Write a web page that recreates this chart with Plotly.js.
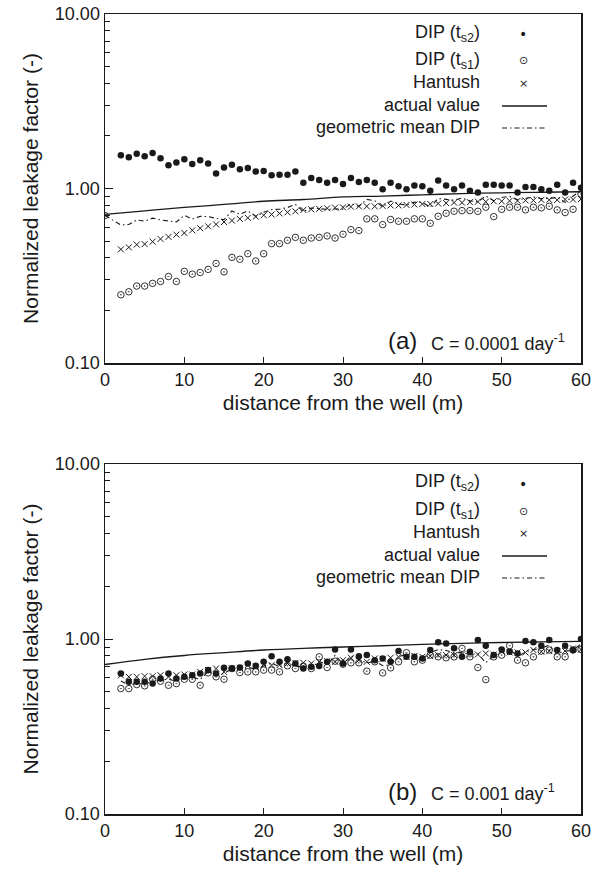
<!DOCTYPE html>
<html>
<head>
<meta charset="utf-8">
<script src="https://cdn.plot.ly/plotly-3.0.1.min.js"></script>
<style>
  html, body { margin: 0; padding: 0; background: #ffffff; }
  #chart { width: 600px; height: 873px; }
</style>
</head>
<body>
<div id="chart"></div>
<script>
// ---------------- data ----------------
const distance = [2,3,4,5,6,7,8,9,10,11,12,13,14,15,16,17,18,19,20,21,22,23,24,25,26,27,28,29,30,31,
  32,33,34,35,36,37,38,39,40,41,42,43,44,45,46,47,48,49,50,51,52,53,54,55,56,57,58,59,60];
const actualDistance = [0,5,10,15,20,25,30,35,40,45,50,55,60];

// Panel (a): C = 0.0001 day^-1
const topDipTs2 = [1.55,1.51,1.58,1.53,1.60,1.49,1.36,1.41,1.47,1.38,1.45,1.39,1.22,1.32,1.37,1.29,1.31,1.25,1.26,
  1.19,1.20,1.20,1.25,1.08,1.15,1.12,1.08,1.12,1.06,1.15,1.09,1.12,1.08,0.99,1.08,1.03,0.99,1.04,1.03,
  0.97,1.11,1.04,0.99,1.04,0.97,0.95,1.05,1.05,1.04,1.04,0.95,1.02,1.02,0.99,0.97,1.05,0.95,1.08,1.01];
const topDipTs1AtWell = 0.70;
const topDipTs1 = [0.246,0.256,0.276,0.276,0.286,0.293,0.313,0.293,0.335,0.323,0.330,0.344,0.372,0.333,0.403,
  0.393,0.423,0.384,0.423,0.483,0.483,0.505,0.525,0.505,0.52,0.525,0.535,0.52,0.547,0.581,0.574,
  0.67,0.67,0.621,0.664,0.649,0.649,0.67,0.67,0.632,0.693,0.721,0.741,0.747,0.747,0.74,0.781,0.69,
  0.76,0.781,0.781,0.754,0.781,0.775,0.791,0.754,0.728,0.76,0.93];
const topHantush = [0.448,0.46,0.477,0.48,0.496,0.514,0.528,0.544,0.556,0.576,0.592,0.607,0.623,0.643,0.655,
  0.67,0.679,0.69,0.703,0.71,0.72,0.73,0.74,0.754,0.76,0.764,0.77,0.777,0.78,0.787,0.79,
  0.79,0.79,0.795,0.80,0.80,0.805,0.81,0.815,0.815,0.82,0.825,0.83,0.83,0.835,0.84,0.84,0.845,0.845,
  0.85,0.85,0.855,0.855,0.86,0.86,0.86,0.865,0.865,0.87];
const topActual = [0.71,0.745,0.78,0.81,0.845,0.865,0.895,0.905,0.92,0.935,0.945,0.952,0.958];
const topGeoMeanAtWell = 0.70;
const topGeoMean = [0.618,0.622,0.660,0.650,0.676,0.661,0.652,0.643,0.702,0.668,0.692,0.691,0.674,0.663,0.743,
  0.712,0.744,0.693,0.730,0.758,0.761,0.778,0.810,0.738,0.773,0.767,0.760,0.763,0.761,0.817,0.791,
  0.866,0.851,0.784,0.847,0.818,0.802,0.835,0.831,0.783,0.877,0.866,0.857,0.881,0.851,0.838,0.906,
  0.851,0.889,0.901,0.861,0.877,0.893,0.876,0.876,0.890,0.832,0.906,0.969];

// Panel (b): C = 0.001 day^-1
const botDipTs2 = [0.635,0.569,0.569,0.569,0.556,0.594,0.635,0.594,0.608,0.621,0.635,0.664,0.635,0.684,0.678,
  0.687,0.725,0.703,0.741,0.798,0.741,0.767,0.725,0.678,0.693,0.700,0.741,0.872,0.725,
  0.872,0.798,0.809,0.757,0.774,0.741,0.853,0.791,0.791,0.774,0.865,0.957,0.944,0.884,0.791,0.846,
  0.987,0.916,0.809,0.872,0.846,0.827,0.974,0.957,0.916,0.987,0.865,0.916,0.865,1.00];
const botDipTs1 = [0.521,0.521,0.549,0.540,0.589,0.574,0.544,0.556,0.589,0.589,0.544,0.64,0.608,0.589,0.678,
  0.643,0.649,0.649,0.664,0.664,0.649,0.703,0.678,0.70,0.678,0.791,0.687,0.747,0.718,
  0.731,0.731,0.655,0.741,0.640,0.684,0.741,0.835,0.741,0.757,0.809,0.791,0.781,0.791,0.884,0.791,
  0.687,0.586,0.791,0.809,0.916,0.757,0.731,0.791,0.853,0.865,0.791,0.791,0.865,0.872];
const botHantush = [0.62,0.608,0.608,0.613,0.613,0.621,0.608,0.621,0.627,0.627,0.649,0.664,0.678,0.649,0.678,
  0.684,0.709,0.693,0.715,0.709,0.709,0.725,0.73,0.731,0.725,0.741,0.747,0.741,0.757,
  0.781,0.757,0.741,0.774,0.77,0.781,0.791,0.79,0.80,0.791,0.798,0.809,0.809,0.809,0.816,0.816,
  0.816,0.827,0.816,0.846,0.838,0.838,0.838,0.865,0.846,0.853,0.846,0.853,0.884,0.87];
const botActual = [0.715,0.765,0.805,0.835,0.865,0.885,0.90,0.915,0.932,0.945,0.955,0.962,0.968];
const botGeoMean = [0.575,0.545,0.559,0.554,0.572,0.584,0.588,0.575,0.598,0.605,0.588,0.652,0.621,0.635,0.678,
  0.665,0.686,0.675,0.701,0.728,0.693,0.734,0.701,0.689,0.685,0.744,0.713,0.807,0.721,
  0.798,0.764,0.728,0.749,0.704,0.712,0.795,0.813,0.766,0.765,0.837,0.870,0.859,0.836,0.836,0.818,
  0.823,0.733,0.800,0.840,0.880,0.791,0.844,0.870,0.884,0.924,0.827,0.851,0.865,0.934];

const yTickVals = [0.1, 1, 10];
const yTickText = ['0.10', '1.00', '10.00'];
const yMinorVals = [0.2,0.3,0.4,0.5,0.6,0.7,0.8,0.9,2,3,4,5,6,7,8,9];
const xTickVals = [0,10,20,30,40,50,60];

const legendLabels = ['DIP (t<sub>s2</sub>)', 'DIP (t<sub>s1</sub>)', 'Hantush', 'actual value', 'geometric mean DIP'];
const panelLabels = ['(a)', '(b)'];
const panelConstants = ['C = 0.0001 day<sup>-1</sup>', 'C = 0.001 day<sup>-1</sup>'];

// ---------------- styling / layout ----------------
const FONT = 'Liberation Sans, Arial, Helvetica, sans-serif';
const INK = '#1a1a1a';
const W = 600, H = 873;
const M = {l: 105, r: 19, t: 14, b: 59};
const plotH = H - M.t - M.b, plotW = W - M.l - M.r;
const py = (p) => (H - M.b - p) / plotH;   // pixel y -> paper y
const px = (p) => (p - M.l) / plotW;       // pixel x -> paper x

function panelTraces(xa, ya, ts2, ts1x, ts1, hant, act, geox, geo) {
  return [
    {x: actualDistance, y: act, xaxis: xa, yaxis: ya, type: 'scatter', mode: 'lines',
     line: {color: INK, width: 1.3, shape: 'spline'}, hoverinfo: 'skip'},
    {x: geox, y: geo, xaxis: xa, yaxis: ya, type: 'scatter', mode: 'lines',
     line: {color: INK, width: 1.1, dash: '5px,3px,1.5px,3px'}, hoverinfo: 'skip'},
    {x: distance, y: hant, xaxis: xa, yaxis: ya, type: 'scatter', mode: 'markers',
     marker: {symbol: 'x-thin', size: 6, line: {color: INK, width: 1}, color: INK}},
    {x: ts1x, y: ts1, xaxis: xa, yaxis: ya, type: 'scatter', mode: 'markers',
     marker: {symbol: 'circle-open-dot', size: 6.5, color: INK, line: {color: INK, width: 0.9}}},
    {x: distance, y: ts2, xaxis: xa, yaxis: ya, type: 'scatter', mode: 'markers',
     marker: {symbol: 'circle', size: 6.5, color: INK, line: {width: 0}}}
  ];
}

const data = [].concat(
  panelTraces('x', 'y', topDipTs2, [0].concat(distance), [topDipTs1AtWell].concat(topDipTs1),
              topHantush, topActual, [0].concat(distance), [topGeoMeanAtWell].concat(topGeoMean)),
  panelTraces('x2', 'y2', botDipTs2, distance, botDipTs1,
              botHantush, botActual, distance, botGeoMean)
);

function xAxis(anchor) {
  return {
    anchor: anchor, range: [0, 60], tickmode: 'array', tickvals: xTickVals,
    ticks: 'inside', ticklen: 6, tickwidth: 1, tickcolor: INK,
    showline: true, linecolor: INK, linewidth: 1.5, mirror: true,
    showgrid: false, zeroline: false,
    tickfont: {family: FONT, size: 18, color: INK},
    title: {text: 'distance from the well (m)', font: {family: FONT, size: 21, color: INK}, standoff: 6}
  };
}
function yAxis(anchor, domain) {
  return {
    anchor: anchor, domain: domain, type: 'log', range: [-1, 1],
    tickmode: 'array', tickvals: yTickVals, ticktext: yTickText,
    ticks: 'inside', ticklen: 8, tickwidth: 1, tickcolor: INK,
    minor: {tickmode: 'array', tickvals: yMinorVals, ticks: 'inside', ticklen: 5, tickwidth: 1, tickcolor: INK, showgrid: false},
    showline: true, linecolor: INK, linewidth: 1.5, mirror: true,
    showgrid: false, zeroline: false,
    tickfont: {family: FONT, size: 18, color: INK},
    title: {text: 'Normalized leakage factor (-)', font: {family: FONT, size: 21, color: INK}, standoff: 10}
  };
}

const annotations = [];
const shapes = [];
const legendRowsPx = [33, 60, 82, 105, 127];
const legendGlyph = ['\u2022', '\u2299', '\u00d7'];
[0, 450].forEach((off, pi) => {
  legendLabels.forEach((lab, i) => {
    annotations.push({xref: 'paper', yref: 'paper', x: px(482), y: py(legendRowsPx[i] + off),
      xanchor: 'right', yanchor: 'middle', text: lab, showarrow: false,
      font: {family: FONT, size: 18, color: INK}});
    if (i < 3) {
      annotations.push({xref: 'paper', yref: 'paper', x: px(523), y: py(legendRowsPx[i] + off + 1),
        xanchor: 'center', yanchor: 'middle', text: legendGlyph[i], showarrow: false,
        font: {family: 'DejaVu Sans, sans-serif', size: i === 0 ? 14 : 11, color: INK}});
    } else {
      shapes.push({type: 'line', xref: 'paper', yref: 'paper',
        x0: px(502), x1: px(547), y0: py(legendRowsPx[i] + off + 1), y1: py(legendRowsPx[i] + off + 1),
        line: {color: INK, width: i === 3 ? 1.3 : 1.1, dash: i === 3 ? 'solid' : '5px,3px,1.5px,3px'}});
    }
  });
  annotations.push({xref: 'paper', yref: 'paper', x: px(419), y: py(341 + off),
    xanchor: 'right', yanchor: 'middle', text: panelLabels[pi], showarrow: false,
    font: {family: FONT, size: 24, color: INK}});
  annotations.push({xref: 'paper', yref: 'paper', x: px(429), y: py(342 + off),
    xanchor: 'left', yanchor: 'middle', text: panelConstants[pi], showarrow: false,
    font: {family: FONT, size: 18, color: INK}});
});

const layout = {
  width: W, height: H,
  margin: M,
  paper_bgcolor: '#ffffff', plot_bgcolor: '#ffffff',
  showlegend: false,
  font: {family: FONT, color: INK},
  xaxis: xAxis('y'),
  yaxis: yAxis('x', [py(363), 1]),
  xaxis2: xAxis('y2'),
  yaxis2: yAxis('x2', [0, py(464)]),
  annotations: annotations,
  shapes: shapes
};

Plotly.newPlot('chart', data, layout, {displayModeBar: false, staticPlot: true});
</script>
</body>
</html>
